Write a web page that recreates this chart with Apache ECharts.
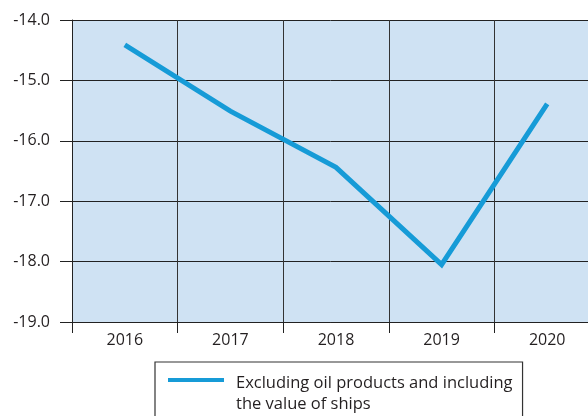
<!DOCTYPE html>
<html>
<head>
<meta charset="utf-8">
<script src="https://cdn.jsdelivr.net/npm/echarts@6/dist/echarts.min.js"></script>
<style>
html,body{margin:0;padding:0;background:#fff;}
#c{width:588px;height:416px;}
</style>
</head>
<body>
<div id="c"></div>
<script>
const categories = ['2016', '2017', '2018', '2019', '2020'];
const seriesName = 'Excluding oil products and including\nthe value of ships';
const values = [-14.41, -15.51, -16.44, -18.05, -15.39];
const yMin = -19, yMax = -14, yStep = 1;

const FONT = 'Open Sans';
const chart = echarts.init(document.getElementById('c'), null, {renderer: 'canvas'});
chart.setOption({
  animation: false,
  backgroundColor: '#ffffff',
  grid: {
    left: 72, top: 20, height: 302, width: 528,
    outerBoundsMode: 'none',
    containLabel: false,
    show: true, backgroundColor: '#cfe2f3', borderWidth: 0
  },
  legend: {
    left: 155, top: 362,
    data: [seriesName],
    orient: 'horizontal',
    borderColor: '#333333', borderWidth: 1.2,
    padding: [11, 10, 12, 13],
    itemWidth: 63, itemHeight: 32,
    icon: 'path://M0,0H56V4H0Z M63,32',
    textStyle: {fontFamily: FONT, fontSize: 16.5, color: '#231f20', lineHeight: 21}
  },
  xAxis: {
    type: 'category',
    data: categories,
    boundaryGap: true,
    axisLine: {show: true, lineStyle: {color: '#222', width: 1}},
    axisTick: {show: true, length: 11, alignWithLabel: false, lineStyle: {color: '#222', width: 1}},
    axisLabel: {fontFamily: FONT, fontSize: 16, color: '#231f20', margin: 10},
    splitLine: {show: true, lineStyle: {color: '#333', width: 1}}
  },
  yAxis: {
    type: 'value',
    min: yMin, max: yMax, interval: yStep,
    axisLine: {show: true, lineStyle: {color: '#222', width: 1}},
    axisTick: {show: true, length: 12, lineStyle: {color: '#222', width: 1}},
    axisLabel: {fontFamily: FONT, fontSize: 16, color: '#231f20', margin: 22,
      formatter: v => v.toFixed(1)},
    splitLine: {show: true, lineStyle: {color: '#222', width: 1}}
  },
  series: [{
    name: seriesName,
    type: 'line',
    data: values,
    symbol: 'none',
    lineStyle: {color: '#169bd7', width: 5, cap: 'butt', join: 'miter'},
    itemStyle: {color: '#169bd7'}
  }]
});
</script>
</body>
</html>
